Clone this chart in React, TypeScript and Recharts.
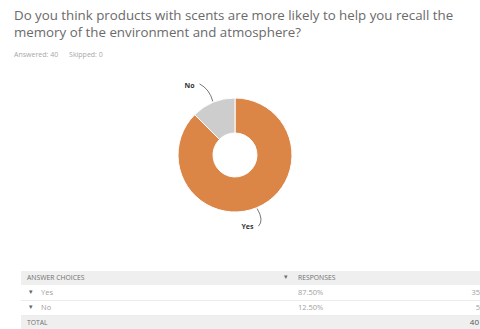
import { PieChart, Pie, Cell } from "recharts";

const answers = ["Yes", "No"];
const percents = ["87.50%", "12.50%"];
const counts = [35, 5];
const total = 40;
const colors = ["#DB8546", "#CDCDCD"];

const data = answers.map((name, i) => ({ name, value: counts[i] }));

const RAD = Math.PI / 180;

function LeaderLabel(props: any) {
  const { cx, cy, midAngle, outerRadius, name } = props;
  const a = -midAngle * RAD;
  const sx = cx + (outerRadius + 1) * Math.cos(a);
  const sy = cy + (outerRadius + 1) * Math.sin(a);
  const ex = cx + (outerRadius + 20) * Math.cos(a) - 6;
  const ey = cy + (outerRadius + 20) * Math.sin(a);
  const qx = cx + (outerRadius + 14) * Math.cos(a) + 2;
  const qy = cy + (outerRadius + 14) * Math.sin(a);
  const up = ey < cy;
  return (
    <g>
      <path
        d={`M${sx},${sy} Q${qx},${qy} ${ex},${ey}`}
        stroke="#555"
        strokeWidth={0.8}
        fill="none"
      />
      <text
        x={ex - 5}
        y={up ? ey + 4 : ey + 3}
        textAnchor="end"
        fontSize={7}
        fontWeight={700}
        fill="#333"
        fontFamily="Open Sans, sans-serif"
      >
        {name}
      </text>
    </g>
  );
}

const cellText = {
  position: "absolute" as const,
  fontSize: 7.5,
  color: "#a0a0a0",
  whiteSpace: "nowrap" as const,
};

const headText = {
  ...cellText,
  fontSize: 6.8,
  color: "#707070",
};

export default function App() {
  return (
    <div
      style={{
        position: "absolute",
        left: 0,
        top: 0,
        width: 480,
        height: 329,
        background: "#fff",
        overflow: "hidden",
        fontFamily: "Open Sans, sans-serif",
      }}
    >
      <div
        style={{
          position: "absolute",
          left: 14,
          top: 7,
          width: 470,
          fontSize: 13.3,
          lineHeight: "17px",
          color: "#6a6a6a",
          whiteSpace: "nowrap",
        }}
      >
        Do you think products with scents are more likely to help you recall the
        <br />
        memory of the environment and atmosphere?
      </div>

      <div
        style={{
          position: "absolute",
          left: 14,
          top: 50,
          fontSize: 7,
          color: "#a8a8a8",
          whiteSpace: "nowrap",
        }}
      >
        Answered: 40&nbsp;&nbsp;&nbsp;&nbsp;&nbsp;&nbsp;Skipped: 0
      </div>

      <div style={{ position: "absolute", left: 0, top: 60 }}>
        <PieChart width={480} height={195}>
          <Pie
            data={data}
            dataKey="value"
            nameKey="name"
            cx={230}
            cy={90}
            innerRadius={22}
            outerRadius={57}
            startAngle={90}
            endAngle={-270}
            stroke="#fff"
            strokeWidth={1}
            label={LeaderLabel}
            labelLine={false}
            isAnimationActive={false}
          >
            {data.map((d, i) => (
              <Cell key={d.name} fill={colors[i]} />
            ))}
          </Pie>
        </PieChart>
      </div>

      {/* table */}
      <div
        style={{
          position: "absolute",
          left: 21,
          top: 271,
          width: 470,
          height: 14,
          background: "#efefef",
        }}
      />
      <div style={{ ...headText, left: 27, top: 273 }}>ANSWER CHOICES</div>
      <div style={{ ...headText, left: 284, top: 272 }}>▾</div>
      <div style={{ ...headText, left: 298, top: 273 }}>RESPONSES</div>

      {answers.map((a, i) => (
        <div key={a}>
          <div style={{ ...cellText, left: 29, top: 287 + i * 15, fontSize: 6.5, color: "#666" }}>▾</div>
          <div style={{ ...cellText, left: 41, top: 287 + i * 15 }}>{a}</div>
          <div style={{ ...cellText, left: 298, top: 287 + i * 15 }}>{percents[i]}</div>
          <div
            style={{
              ...cellText,
              left: 440,
              width: 40,
              textAlign: "right",
              top: 287 + i * 15,
            }}
          >
            {counts[i]}
          </div>
          <div
            style={{
              position: "absolute",
              left: 21,
              top: 300 + i * 15,
              width: 470,
              height: 1,
              background: "#ececec",
            }}
          />
        </div>
      ))}

      <div
        style={{
          position: "absolute",
          left: 21,
          top: 316,
          width: 470,
          height: 13,
          background: "#efefef",
        }}
      />
      <div style={{ ...headText, left: 27, top: 318 }}>TOTAL</div>
      <div
        style={{
          ...cellText,
          left: 440,
          width: 39,
          textAlign: "right",
          top: 316,
          color: "#555",
          fontSize: 8,
        }}
      >
        {total}
      </div>
    </div>
  );
}
